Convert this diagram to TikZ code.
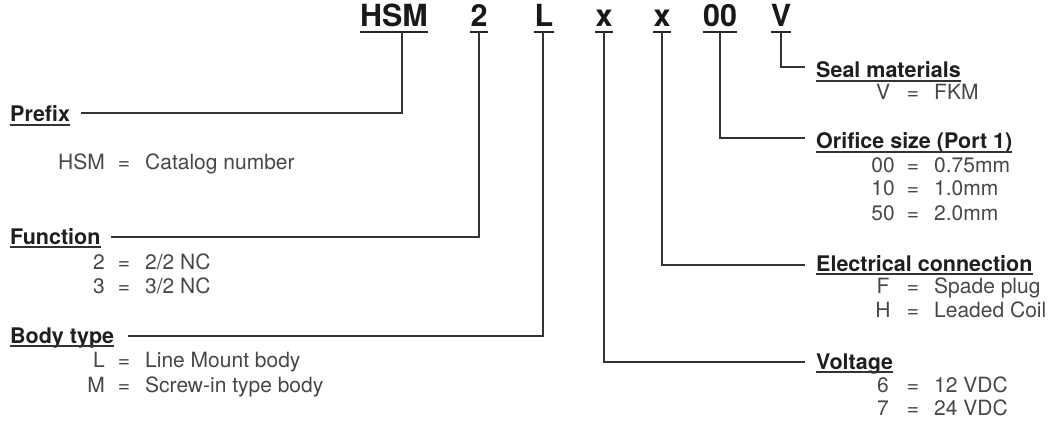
\documentclass[tikz,border=0pt]{standalone}
\usepackage{fontspec}
\setmainfont{TeX Gyre Heros}
\newcommand\myLrow[4]{%
  \node[val,anchor=base east] (#1c) at (105,#2) {#3};
  \node[val,anchor=base] (#1e) at (124,#2) {=};
  \node[val,anchor=base west] (#1v) at (145,#2) {#4};}
\newcommand\myRrow[4]{%
  \node[val,anchor=base] (#1c) at (883,#2) {#3};
  \node[val,anchor=base] (#1e) at (913,#2) {=};
  \node[val,anchor=base west] (#1v) at (934,#2) {#4};}
\begin{document}
\begin{tikzpicture}[x=1pt,y=-1pt,
  title/.style={font=\fontsize{30.5}{30}\selectfont\bfseries, inner sep=0pt, anchor=base, text=black!90},
  head/.style={font=\fontsize{21.5}{21}\selectfont\bfseries, inner sep=0pt, anchor=base west, text=black!88},
  val/.style={font=\fontsize{21}{21}\selectfont, inner sep=0pt, text=black!72},
  conn/.style={draw=black!80, line width=1.1pt},
  ulthick/.style={draw=black!85, line width=2pt},
  ulthin/.style={draw=black!80, line width=1.3pt}]
\useasboundingbox (0,0) rectangle (1059,422);
% title
\node[title] (tHSM) at (394,27) {HSM};
\node[title] (t2) at (479,27) {2};
\node[title] (tL) at (544,27) {L};
\node[title] (tx1) at (604,27) {x};
\node[title] (tx2) at (662,27) {x};
\node[title] (t00) at (720,27) {00};
\node[title] (tV) at (781,27) {V};
\foreach \n in {tHSM,t2,tL,tx1,tx2,t00,tV}
  \draw[ulthick] ([yshift=-5pt]\n.base west) -- ([yshift=-5pt]\n.base east);
% headers
\node[head] (hPre) at (10,122) {Prefix};
\node[head] (hFun) at (10,244) {Function};
\node[head] (hBod) at (10,343) {Body type};
\node[head] (hSeal) at (816,78) {Seal materials};
\node[head] (hOri) at (816,149) {Orifice size (Port 1)};
\node[head] (hEle) at (816,271) {Electrical connection};
\node[head] (hVol) at (816,369) {Voltage};
\foreach \n in {hPre,hFun,hBod,hSeal,hOri,hEle,hVol}
  \draw[ulthin] ([yshift=-3pt]\n.base west) -- ([yshift=-3pt]\n.base east);
% connectors
\draw[conn] ([xshift=8pt,yshift=-5pt]tHSM.base) |- ([xshift=11pt,yshift=9pt]hPre.base east);
\draw[conn] ([yshift=-5pt]t2.base) |- ([xshift=10pt,yshift=7pt]hFun.base east);
\draw[conn] ([xshift=-1pt,yshift=-5pt]tL.base) |- ([xshift=14pt,yshift=7pt]hBod.base east);
\draw[conn] ([yshift=-5pt]tV.base) |- ([xshift=-11pt,yshift=11pt]hSeal.base west);
\draw[conn] ([yshift=-5pt]t00.base) |- ([xshift=-11pt,yshift=11pt]hOri.base west);
\draw[conn] ([yshift=-5pt]tx2.base) |- ([xshift=-11pt,yshift=6pt]hEle.base west);
\draw[conn] ([yshift=-5pt]tx1.base) |- ([xshift=-11pt,yshift=7pt]hVol.base west);
% items
\myLrow{a}{170}{HSM}{Catalog number}
\myLrow{b}{269}{2}{2/2 NC}
\myLrow{c}{293}{3}{3/2 NC}
\myLrow{d}{367}{L}{Line Mount body}
\myLrow{e}{392}{M}{Screw-in type body}
\myRrow{f}{100}{V}{FKM}
\myRrow{g}{172}{00}{0.75mm}
\myRrow{h}{196}{10}{1.0mm}
\myRrow{i}{220}{50}{2.0mm}
\myRrow{j}{293}{F}{Spade plug}
\myRrow{k}{317}{H}{Leaded Coil}
\myRrow{l}{392}{6}{12 VDC}
\myRrow{m}{415}{7}{24 VDC}
\end{tikzpicture}
\end{document}
